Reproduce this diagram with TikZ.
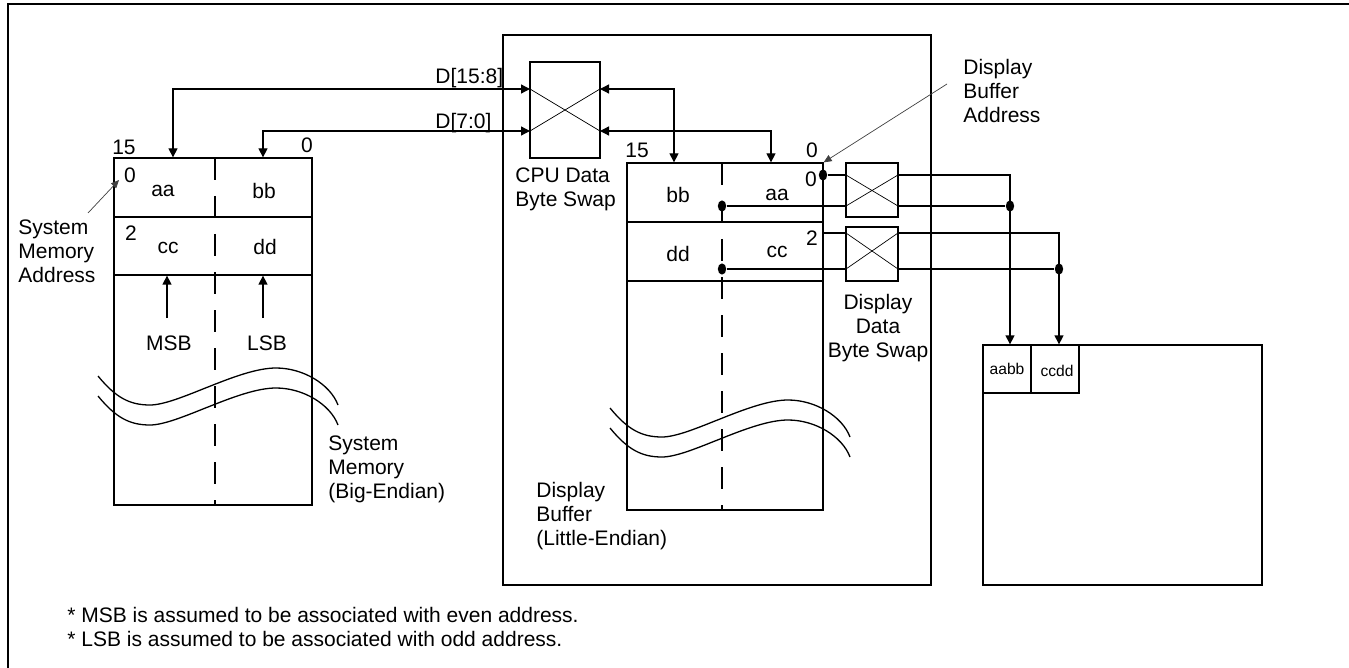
\documentclass[tikz,border=0pt]{standalone}
\usepackage{fontspec}
\setmainfont{Liberation Sans}
\usetikzlibrary{arrows.meta,positioning,fit,shapes.geometric}
\tikzset{
  mem/box/.style={draw, line width=0.65pt, inner sep=0pt},
  mem/split/.style={line width=0.65pt, dash pattern=on 11pt off 8pt},
  mem/lbl/.style={font=\fontsize{10.5}{12}\selectfont, inner sep=0pt},
  mem/small/.style={font=\fontsize{7.8}{9}\selectfont, inner sep=0pt},
  mem/note/.style={mem/lbl, align=left, anchor=west},
  mem/wire/.style={line width=0.65pt},
  mem/bus/.style={mem/wire, {Triangle[length=4.5pt,width=4.5pt]}-{Triangle[length=4.5pt,width=4.5pt]}},
  mem/feed/.style={mem/wire, -{Triangle[length=4.5pt,width=4.5pt]}},
  mem/cross/.style={line width=0.35pt},
  mem/pointer/.style={line width=0.35pt, black!75, -{Triangle[length=4pt,width=3.5pt]}},
  mem/dot/.style={fill, ellipse, inner sep=0pt, minimum width=4.2pt, minimum height=5.6pt},
}
\newcommand{\memwave}[2]{%
  \foreach \dy in {0,20}
    \draw[mem/wire, shift={(#1,#2+\dy)}] (0,0) .. controls (18,22) and (32,29) .. (52,29)
      .. controls (80,29) and (140,-8) .. (178,-8) .. controls (205,-8) and (232,8) .. (240,29);}

\begin{document}
\begin{tikzpicture}[x=0.5pt, y=-0.5pt]
\useasboundingbox (0,0) rectangle (1349,668);
\draw[mem/wire] (8,668) -- (8,4) -- (1349,4);

\node[mem/box, fit={(114,158) (312,505)}] (sysmem) {};
\node[mem/box, fit={(114,158) (312,217)}] (sm0) {};
\node[mem/box, fit={(114,217) (312,275)}] (sm2) {};
\draw[mem/split] (215,158) -- (215,505);
\node[mem/lbl] (smhi) at (124,147) {15};
\node[mem/lbl] (smlo) at (307,145) {0};
\node[mem/lbl] (sma0) at (130,175) {0};
\node[mem/lbl] (smaa) at (163,191) {aa};
\node[mem/lbl] (smbb) at (264,191) {bb};
\node[mem/lbl] (sma2) at (131,233) {2};
\node[mem/lbl] (smcc) at (168,248) {cc};
\node[mem/lbl] (smdd) at (265,247) {dd};
\node[mem/lbl] (msb) at (169,343) {MSB};
\node[mem/lbl] (lsb) at (267,343) {LSB};
\coordinate (msbtail) at (167,318);
\coordinate (lsbtail) at (263,318);
\draw[mem/feed] (msbtail) -- (msbtail |- sm2.south);
\draw[mem/feed] (lsbtail) -- (lsbtail |- sm2.south);
\memwave{98}{376}
\node[mem/note] (smname) at (328,469) {System\\Memory\\(Big-Endian)};
\node[mem/note] (smaddr) at (18,251) {System\\Memory\\Address};
\coordinate (smaddrtail) at (88,213);
\draw[mem/pointer] (smaddrtail) -- (119,180);

\node[mem/box, fit={(503,35) (931,585)}] (chip) {};
\node[mem/box, fit={(530,62) (600,158)}] (cpuswap) {};
\node[mem/note] (cpuname) at (515,189) {CPU Data\\Byte Swap};
\coordinate (csinhi) at (530,89);
\coordinate (csinlo) at (530,131);
\coordinate (csouthi) at (600,89);
\coordinate (csoutlo) at (600,131);
\draw[mem/cross] (csinhi) -- (csoutlo);
\draw[mem/cross] (csinlo) -- (csouthi);
\draw[mem/bus] (csinhi) -| (173,0 |- sm0.north);
\draw[mem/bus] (csinlo) -| (263,0 |- sm0.north);
\node[mem/lbl, anchor=west] (dhi) at (435,78) {D[15:8]};
\node[mem/lbl, anchor=west] (dlo) at (435,123) {D[7:0]};

\node[mem/box, fit={(627,163) (823,510)}] (dispbuf) {};
\node[mem/box, fit={(627,163) (823,222)}] (db0) {};
\node[mem/box, fit={(627,222) (823,281)}] (db2) {};
\draw[mem/split] (722,163) -- (722,510);
\draw[mem/bus] (csouthi) -| (674,0 |- dispbuf.north);
\draw[mem/bus] (csoutlo) -| (771,0 |- dispbuf.north);
\node[mem/lbl] (dbhi) at (637,150) {15};
\node[mem/lbl] (dblo) at (812,150) {0};
\node[mem/lbl] (dbbb) at (678,195) {bb};
\node[mem/lbl] (dbaa) at (777,195) {aa};
\node[mem/lbl] (dba0) at (811,179) {0};
\node[mem/lbl] (dbdd) at (678,254) {dd};
\node[mem/lbl] (dbcc) at (777,252) {cc};
\node[mem/lbl] (dba2) at (812,238) {2};
\memwave{610}{408}
\node[mem/note] (dbname) at (536,516) {Display\\Buffer\\(Little-Endian)};
\node[mem/note] (dbaddr) at (963,91) {Display\\Buffer\\Address};
\draw[mem/pointer] ([shift={(-16,-7)}]dbaddr.west) -- (dispbuf.north east);

\node[mem/dot] (dot0) at (823,175) {};
\node[mem/dot] (dotaa) at (722,206) {};
\node[mem/dot] (dotcc) at (722,269) {};
\node[mem/box, fit={(846,163) (898,217)}] (swapa) {};
\node[mem/box, fit={(846,227) (898,281)}] (swapc) {};
\node[mem/lbl, align=center] (swapname) at (878,328) {Display\\Data\\Byte Swap};
\coordinate (sainhi) at (846,175);
\coordinate (sainlo) at (846,206);
\coordinate (saouthi) at (898,175);
\coordinate (saoutlo) at (898,206);
\coordinate (scinhi) at (846,233);
\coordinate (scinlo) at (846,269);
\coordinate (scouthi) at (898,233);
\coordinate (scoutlo) at (898,269);
\coordinate (db2edge) at (823,233);
\draw[mem/cross] (sainhi) -- (saoutlo);
\draw[mem/cross] (sainlo) -- (saouthi);
\draw[mem/cross] (scinhi) -- (scoutlo);
\draw[mem/cross] (scinlo) -- (scouthi);
\draw[mem/wire] (dot0) -- (sainhi);
\draw[mem/wire] (dotaa) -- (sainlo);
\draw[mem/wire] (db2edge) -- (scinhi);
\draw[mem/wire] (dotcc) -- (scinlo);

\node[mem/box, fit={(983,345) (1262,585)}] (panel) {};
\node[mem/box, fit={(983,345) (1031,393)}] (aabb) {};
\node[mem/box, fit={(1031,345) (1079,393)}] (ccdd) {};
\node[mem/small] (aabbtxt) at (1007,369) {aabb};
\node[mem/small] (ccddtxt) at (1057,371) {ccdd};
\node[mem/dot] (joina) at (1010,206) {};
\node[mem/dot] (joinc) at (1059,269) {};
\draw[mem/feed] (saouthi) -| (joina |- aabb.north);
\draw[mem/wire] (saoutlo) -- (joina);
\draw[mem/feed] (scouthi) -| (joinc |- ccdd.north);
\draw[mem/wire] (scoutlo) -- (joinc);

\node[mem/note] (foot) at (67,627) {* MSB is assumed to be associated with even address.\\* LSB is assumed to be associated with odd address.};
\end{tikzpicture}
\end{document}
